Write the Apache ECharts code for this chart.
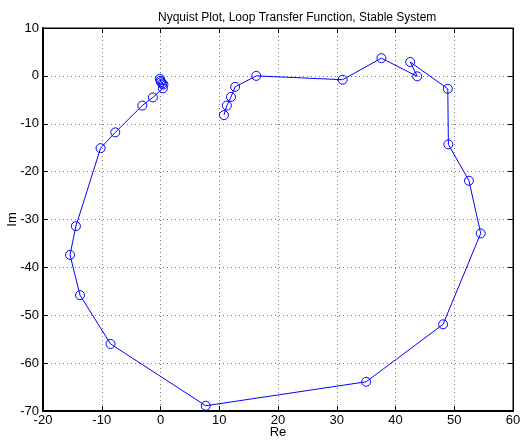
<!DOCTYPE html>
<html>
<head>
<meta charset="utf-8">
<script src="https://cdn.jsdelivr.net/npm/echarts@6/dist/echarts.min.js"></script>
<style>
  html, body { margin: 0; padding: 0; background: #fff; }
  #chart { width: 523px; height: 441px; }
</style>
</head>
<body>
<div id="chart"></div>
<script>
// Nyquist curve points
var reVals = [-0.1, 0.0, 0.1, 0.3, 0.5, 0.4, -1.3, -3.1, -7.7, -10.2, -14.4, -15.4, -13.7, -8.5,
    7.7, 35.0, 48.1, 54.5, 52.5, 49.0, 48.9, 42.5, 43.7, 37.6, 31.0, 16.3, 12.7, 12.0, 11.3, 10.8];
var imVals = [-0.6, -1.0, -1.3, -1.6, -1.8, -2.6, -4.5, -6.2, -11.8, -15.1, -31.4, -37.4, -45.8, -56.0,
    -68.9, -63.9, -51.9, -32.9, -21.9, -14.3, -2.7, 2.9, -0.1, 3.7, -0.8, 0.0, -2.3, -4.4, -6.2, -8.2];
var xTicks = [-20, -10, 0, 10, 20, 30, 40, 50, 60];
var yTicks = [10, 0, -10, -20, -30, -40, -50, -60, -70];

var pts = reVals.map(function (x, i) { return [x, imVals[i]]; });

var labelFont = {color: '#000', fontSize: 13, fontFamily: 'Liberation Sans, Arial, sans-serif'};
var gridLine = {show: true, lineStyle: {color: '#777', type: [1, 3], width: 1}};

var chart = echarts.init(document.getElementById('chart'));
chart.setOption({
    animation: false,
    title: {
        text: 'Nyquist Plot, Loop Transfer Function, Stable System',
        left: 153,
        top: 7,
        textStyle: {color: '#000', fontSize: 12, fontWeight: 'normal', fontFamily: 'Liberation Sans, Arial, sans-serif'}
    },
    grid: {left: 43, right: 10, top: 28, bottom: 30, outerBoundsMode: 'none', containLabel: false,
        show: true, borderColor: '#000', borderWidth: 1},
    xAxis: [{
        type: 'value', min: xTicks[0], max: xTicks[xTicks.length - 1], interval: 10,
        name: 'Re', nameLocation: 'middle', nameGap: 15, nameMoveOverlap: false,
        nameTextStyle: labelFont,
        axisLine: {show: true, onZero: false, lineStyle: {color: '#000', width: 2}},
        axisTick: {show: true, inside: true, length: 5, lineStyle: {color: '#000'}},
        axisLabel: Object.assign({margin: 3}, labelFont),
        splitLine: gridLine
    }, {
        type: 'value', position: 'top', min: xTicks[0], max: xTicks[xTicks.length - 1], interval: 10,
        axisLine: {show: true, onZero: false, lineStyle: {color: '#000'}},
        axisTick: {show: true, inside: true, length: 5, lineStyle: {color: '#000'}},
        axisLabel: {show: false},
        splitLine: {show: false}
    }],
    yAxis: [{
        type: 'value', min: yTicks[yTicks.length - 1], max: yTicks[0], interval: 10,
        name: 'Im', nameLocation: 'middle', nameGap: 24, nameMoveOverlap: false,
        nameTextStyle: labelFont,
        axisLine: {show: true, onZero: false, lineStyle: {color: '#000', width: 2}},
        axisTick: {show: true, inside: true, length: 5, lineStyle: {color: '#000'}},
        axisLabel: Object.assign({margin: 4}, labelFont),
        splitLine: gridLine
    }, {
        type: 'value', position: 'right', min: yTicks[yTicks.length - 1], max: yTicks[0], interval: 10,
        axisLine: {show: true, onZero: false, lineStyle: {color: '#000'}},
        axisTick: {show: true, inside: true, length: 5, lineStyle: {color: '#000'}},
        axisLabel: {show: false},
        splitLine: {show: false}
    }],
    series: [{
        type: 'line',
        data: pts,
        symbol: 'circle',
        symbolSize: 9,
        showAllSymbol: true,
        lineStyle: {color: '#0000ff', width: 1},
        itemStyle: {color: 'rgba(0,0,0,0)', borderColor: '#0000ff', borderWidth: 1}
    }]
});
</script>
</body>
</html>
